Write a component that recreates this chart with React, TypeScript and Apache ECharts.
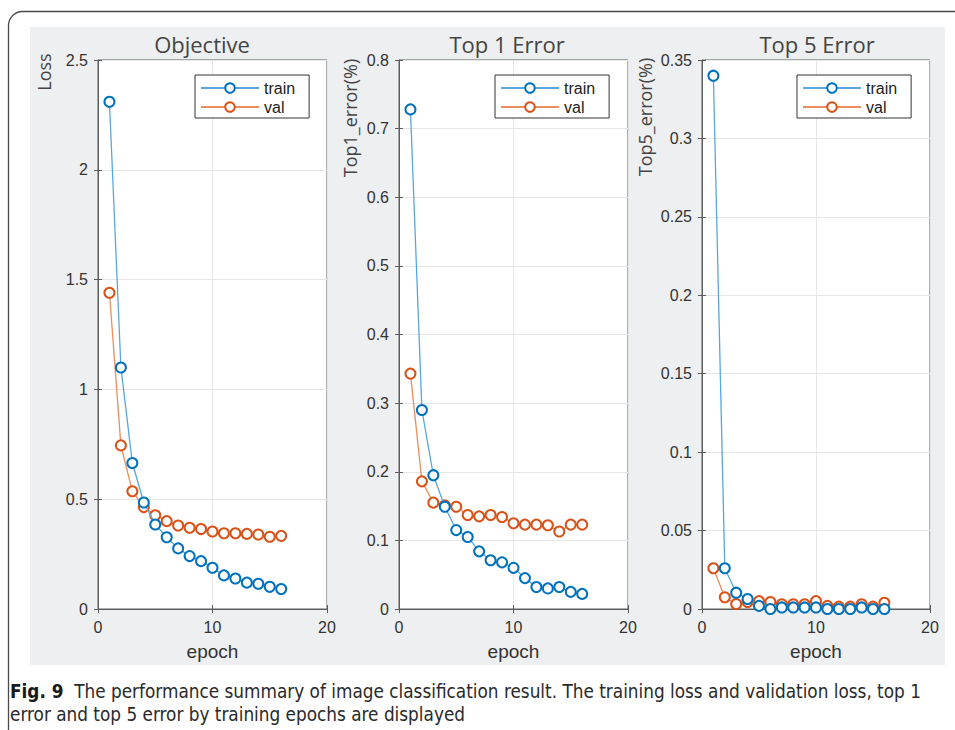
import React, { useEffect, useRef } from "react";
import * as echarts from "echarts";

const epochs = [1, 2, 3, 4, 5, 6, 7, 8, 9, 10, 11, 12, 13, 14, 15, 16];
const lossTrain = [2.31, 1.1, 0.665, 0.485, 0.385, 0.327, 0.276, 0.241, 0.218, 0.188, 0.153, 0.139, 0.12, 0.115, 0.101, 0.091];
const lossVal = [1.44, 0.745, 0.536, 0.464, 0.427, 0.4, 0.38, 0.37, 0.364, 0.353, 0.345, 0.345, 0.342, 0.339, 0.329, 0.333];
const top1Train = [0.728, 0.29, 0.195, 0.149, 0.115, 0.105, 0.084, 0.071, 0.068, 0.06, 0.045, 0.032, 0.03, 0.032, 0.025, 0.022];
const top1Val = [0.343, 0.186, 0.155, 0.151, 0.149, 0.137, 0.135, 0.137, 0.134, 0.125, 0.123, 0.123, 0.122, 0.113, 0.123, 0.123];
const top5Train = [0.34, 0.026, 0.0104, 0.0064, 0.002, 0, 0.001, 0.001, 0.001, 0.001, 0, 0, 0, 0.001, 0, 0];
const top5Val = [0.026, 0.0075, 0.0032, 0.0045, 0.005, 0.0045, 0.003, 0.003, 0.003, 0.005, 0.002, 0.0015, 0.0015, 0.003, 0.0015, 0.004];

const panelTitles = ["Objective", "Top 1 Error", "Top 5 Error"];
const yNames = ["Loss", "Top1_error(%)", "Top5_error(%)"];
const yMaxes = [2.5, 0.8, 0.35];
const yIntervals = [0.5, 0.1, 0.05];
const xName = "epoch";
const seriesNames = ["train", "val"];
const captionBold = "Fig. 9";
const captionLine1 = "The performance summary of image classification result. The training loss and validation loss, top 1";
const captionLine2 = "error and top 5 error by training epochs are displayed";

const trainData = [lossTrain, top1Train, top5Train];
const valData = [lossVal, top1Val, top5Val];

const gridLefts = [98, 399, 702];
const gridWidths = [229, 229, 228];
const titleXs = [202, 507, 817];
const yNamePos = [
  [44, 72],
  [350, 118],
  [645, 117],
];
const legendLefts = [195, 495, 797];

const BLUE = "#0072BD";
const ORANGE = "#D95319";
const BLUE_LINE = "#5aa6dc";
const ORANGE_LINE = "#e98d62";
const FONT = "'Liberation Sans', Arial, Helvetica, sans-serif";
const TFONT = "'Open Sans', 'Noto Sans', sans-serif";
const CFONT = "'DejaVu Sans Condensed', 'Liberation Sans Narrow', sans-serif";

export default function App() {
  const ref = useRef<HTMLDivElement>(null);
  useEffect(() => {
    const chart = echarts.init(ref.current!, null, { renderer: "svg" });
    const grids: any[] = [];
    const xAxes: any[] = [];
    const yAxes: any[] = [];
    const series: any[] = [];
    const legends: any[] = [];
    const graphics: any[] = [
      {
        type: "rect",
        z: -20,
        shape: { x: 30, y: 27, width: 915, height: 638 },
        style: { fill: "#eeeff0" },
      },
      {
        type: "rect",
        z: -19,
        shape: { x: 8.5, y: 11.5, width: 1000, height: 1000, r: 14 },
        style: { fill: "none", stroke: "#4a4a4a", lineWidth: 1.3 },
      },
      {
        type: "text",
        x: 10,
        y: 691,
        style: {
          text: "{b|" + captionBold + "}  " + captionLine1,
          font: "18.8px " + CFONT,
          fill: "#2a2a2a",
          textVerticalAlign: "middle",
          rich: {
            b: {
              fontWeight: "bold",
              fontSize: 18.8,
              fontFamily: CFONT,
              fill: "#1a1a1a",
            },
          },
        },
      },
      {
        type: "text",
        x: 10,
        y: 714,
        style: {
          text: captionLine2,
          font: "18.8px " + CFONT,
          fill: "#2a2a2a",
          textVerticalAlign: "middle",
        },
      },
    ];

    for (let i = 0; i < 3; i++) {
      grids.push({
        left: gridLefts[i],
        top: 60,
        width: gridWidths[i],
        height: 549,
        show: true,
        backgroundColor: "#ffffff",
        borderColor: "#5c5c5c",
        borderWidth: 1,
      });
      xAxes.push({
        type: "value",
        gridIndex: i,
        min: 0,
        max: 20,
        interval: 10,
        position: "bottom",
        name: xName,
        nameLocation: "middle",
        nameGap: 33,
        nameTextStyle: { fontFamily: FONT, fontSize: 19, color: "#333" },
        axisLine: { show: true, lineStyle: { color: "#5c5c5c", width: 1 } },
        axisTick: { show: true, inside: true, length: 4, lineStyle: { color: "#5c5c5c" } },
        axisLabel: { fontFamily: FONT, fontSize: 16, color: "#333", margin: 10 },
        splitLine: { show: true, lineStyle: { color: "#e6e6e6", width: 1 } },
      });
      yAxes.push({
        type: "value",
        gridIndex: i,
        min: 0,
        max: yMaxes[i],
        interval: yIntervals[i],
        position: "left",
        axisLine: { show: true, lineStyle: { color: "#5c5c5c", width: 1 } },
        axisTick: { show: true, inside: true, length: 4, lineStyle: { color: "#5c5c5c" } },
        axisLabel: { fontFamily: FONT, fontSize: 16, color: "#333", margin: 10 },
        splitLine: { show: true, lineStyle: { color: "#e6e6e6", width: 1 } },
      });
    }
    for (let i = 0; i < 3; i++) {
      xAxes.push({
        type: "value",
        gridIndex: i,
        min: 0,
        max: 20,
        interval: 10,
        position: "top",
        axisLine: { show: false },
        axisTick: { show: true, inside: true, length: 4, lineStyle: { color: "#5c5c5c" } },
        axisLabel: { show: false },
        splitLine: { show: false },
      });
      yAxes.push({
        type: "value",
        gridIndex: i,
        min: 0,
        max: yMaxes[i],
        interval: yIntervals[i],
        position: "right",
        axisLine: { show: false },
        axisTick: { show: true, inside: true, length: 4, lineStyle: { color: "#5c5c5c" } },
        axisLabel: { show: false },
        splitLine: { show: false },
      });
    }

    for (let i = 0; i < 3; i++) {
      const tr = trainData[i];
      const va = valData[i];
      series.push({
        type: "line",
        name: seriesNames[0],
        xAxisIndex: i,
        yAxisIndex: i,
        data: epochs.map((e, k) => [e, tr[k]]),
        symbol: "emptyCircle",
        symbolSize: 10,
        itemStyle: { color: BLUE, borderWidth: 1.8 },
        lineStyle: { color: BLUE_LINE, width: 1.3 },
        z: 3,
      });
      series.push({
        type: "line",
        name: seriesNames[1],
        xAxisIndex: i,
        yAxisIndex: i,
        data: epochs.map((e, k) => [e, va[k]]),
        symbol: "emptyCircle",
        symbolSize: 10,
        itemStyle: { color: ORANGE, borderWidth: 1.8 },
        lineStyle: { color: ORANGE_LINE, width: 1.3 },
        z: 2,
      });
      legends.push({
        left: legendLefts[i],
        top: 75,
        orient: "vertical",
        data: seriesNames,
        selectedMode: false,
        itemWidth: 58,
        itemHeight: 12,
        itemGap: 3,
        padding: [5, 14, 3, 5],
        backgroundColor: "#fff",
        borderColor: "#333",
        borderWidth: 1,
        borderRadius: 0,
        textStyle: { fontFamily: FONT, fontSize: 16, color: "#222" },
      });
      graphics.push({
        type: "text",
        x: titleXs[i],
        y: 44,
        style: {
          text: panelTitles[i],
          font: "22px " + TFONT,
          fill: "#444",
          textAlign: "center",
          textVerticalAlign: "middle",
        },
      });
      graphics.push({
        type: "text",
        x: yNamePos[i][0],
        y: yNamePos[i][1],
        rotation: Math.PI / 2,
        style: {
          text: yNames[i],
          font: "18px " + TFONT,
          fill: "#444",
          textAlign: "center",
          textVerticalAlign: "middle",
        },
      });
    }

    chart.setOption({
      animation: false,
      backgroundColor: "#ffffff",
      grid: grids,
      xAxis: xAxes,
      yAxis: yAxes,
      legend: legends,
      series,
      graphic: graphics,
    });
    return () => chart.dispose();
  }, []);
  return (
    <div
      ref={ref}
      style={{ position: "absolute", left: 0, top: 0, width: 955, height: 730 }}
    />
  );
}
